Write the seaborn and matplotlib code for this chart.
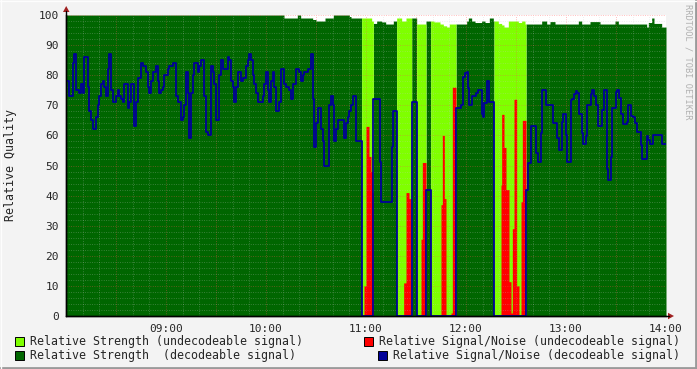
import numpy as np
import matplotlib
matplotlib.use("Agg")
import matplotlib.pyplot as plt
import seaborn as sns
from matplotlib.patches import Rectangle, Polygon
from matplotlib.lines import Line2D
from matplotlib.ticker import MultipleLocator

# ---------------- data (time = minutes after 08:00) ----------------
strength_t = [0, 130.8, 138.8, 140.8, 148, 150, 155.4, 160.4, 170, 171,
              183.4, 184.4, 186.4, 189.4, 191.8, 196.4, 198.4, 201.4, 204,
              210.4, 216, 220.8, 224.4, 226.4, 228.4, 230, 240.4, 241.4,
              243.4, 245.4, 249.4, 251.4, 254, 256.4, 259.4, 261.4, 262.8,
              265.4, 271.4, 273.4, 275.4, 285.4, 288.4, 290.4, 293.4, 307.4,
              309.4, 314.4, 320.4, 329.4, 331.4, 348.4, 349.4, 351.4, 352.8,
              357.4]
strength_v = [100, 99, 100, 99, 98.5, 98, 99, 100, 99.5, 99,
              98, 97.2, 98, 97.7, 97, 98, 99, 98, 99,
              97, 98, 97.7, 97, 96.4, 96, 97, 98, 99,
              98, 97.5, 98, 97.5, 99, 98, 97.2, 96.7,
              96, 98, 97.5, 98, 97, 98, 97, 97.8, 97, 98,
              97, 97.8, 97, 98, 97, 96, 97.5, 99, 97.2,
              96]

snr_t = [0, 2, 4, 5, 6, 8, 9, 10, 11, 13, 14, 15, 16, 18, 19, 20, 21, 22,
         23, 24, 25, 26, 27, 28, 30, 31, 32, 33, 34, 35, 37, 38, 39, 41, 42,
         43, 45, 46, 48, 49, 50, 51, 52, 54, 55, 56, 57, 58, 59, 61, 62, 64,
         66, 67, 69, 70, 71, 72, 73, 74, 75, 76, 77, 79, 80, 81, 83, 84, 85,
         87, 88, 89, 90, 92, 93, 94, 97, 98, 99, 100, 101, 102, 103, 105,
         106, 108, 109, 110, 111, 112, 113, 114, 115, 118, 119, 120, 121,
         122, 123, 124, 125, 126, 128, 129, 131, 132, 134, 135, 136, 138,
         140, 141, 142, 143, 145, 147, 148, 149, 150, 151, 153, 154, 155,
         158, 159, 160, 161, 162, 163, 167, 168, 169, 170, 171, 172, 174,
         177.4, 178.8, 180, 181.8, 183, 183.8,
         184.4, 188.4, 189, 195.4, 196.4,
         198.4, 202.6, 204, 205.8, 207,
         207.4,
         210.4, 213, 213.8,
         216,
         218.8, 225, 225.8, 227, 228, 231, 231.8,
         234, 237, 238.4, 239.4, 240.4, 241, 242, 243.6, 246, 247, 249.4,
         250, 251, 252.4, 254,
         256.8, 261, 261.4, 262.8, 264, 265.8, 267, 267.8, 268.8, 270.4,
         271.8, 273, 273.8,
         276, 277.4, 278.8, 282, 283.4, 284.8, 285.4, 287.8, 292.4, 294.4,
         295.8, 297.4, 298.4, 299.8, 300.4, 302.8, 303.8, 304.8, 305.8,
         306.8, 307.8, 309.4, 310.4, 311.8, 312.8, 314.8, 315.8, 316.8,
         317.8, 319.4, 321.4, 322.8, 324.4, 325.4, 326.8, 327.4, 329.8,
         330.8, 331.8, 332.8, 334.4, 336.4, 337.4, 338.8, 340, 341.4, 342.4,
         344.8, 345.4, 348.4, 349.4, 350.4, 352.4, 357.4]
snr_v = [78, 73, 84, 87, 75, 74, 77, 74, 86, 76, 68, 65, 62, 66, 70, 73, 77, 78,
         76, 73, 82, 87, 75, 71, 73, 75, 73, 72, 71, 77, 69, 71, 77, 63, 71,
         79, 84, 83, 81, 76, 74, 78, 81, 83, 78, 74, 75, 76, 80, 82, 83, 84,
         73, 71, 65, 66, 70, 81, 74, 59, 74, 80, 84, 81, 83, 85, 73, 61, 60,
         83, 81, 77, 65, 80, 85, 82, 86, 85, 78, 76, 71, 76, 81, 78,
         79, 83, 85, 87, 85, 80, 77, 74, 71, 73, 77, 81, 75,
         71, 78, 81, 76, 68, 71, 82, 77, 76, 75, 72, 77, 82,
         81, 78, 80, 81, 82, 87, 72, 56, 64, 69, 62, 58, 50,
         70, 73, 70, 58, 62, 65, 59, 64, 66, 68, 70, 73, 58,
         0, 10, 63, 53, 48, 41,
         72, 51, 38, 56, 68,
         0, 11, 41, 39, 0,
         71,
         0, 25.5, 51,
         42,
         0, 37, 60, 39, 0, 1, 76,
         69, 70, 79.5, 80.6, 81, 75.6, 70, 73, 74, 75, 67,
         66, 70.7, 78, 71,
         0, 43.5, 67, 56, 42, 11.4, 1, 29, 72, 10,
         0, 38, 65,
         42, 50.7, 63, 54.3, 51.3, 60.7, 75, 70, 64, 59.3,
         55, 64.5, 67, 60, 51, 71.8, 72, 73.8, 74.8,
         74.2, 67, 60.7, 57, 59.8, 70, 73.7, 75, 73,
         70, 63, 68.4, 75, 49, 45.2, 52.7, 69, 74.5,
         75, 72.3, 67, 63.7, 64.5, 70, 66.5, 66, 64, 61,
         56.8, 52.2, 59.8, 58.5, 57.1, 60, 57]

undec_start = [177.4, 198.4, 210.4, 218.8, 256.8]
undec_end = [184.4, 207.4, 216.0, 234.0, 276.0]

tick_minutes = [60, 120, 180, 240, 300, 360]
tick_labels = ["09:00", "10:00", "11:00", "12:00", "13:00", "14:00"]

legend_labels = ["Relative Strength (undecodeable signal)",
                 "Relative Signal/Noise (undecodeable signal)",
                 "Relative Strength  (decodeable signal)",
                 "Relative Signal/Noise (decodeable signal)"]

DARK_GREEN = "#006600"
LIGHT_GREEN = "#7fff00"
RED = "#ff0000"
BLUE = "#000099"
BG = "#f3f3f3"

# ---------------- build step series ----------------
T_END = 360.0
grid = np.unique(np.concatenate([strength_t, snr_t, undec_start, undec_end, [T_END]]))


def step_at(t_bp, v_bp, t):
    idx = np.searchsorted(np.asarray(t_bp), t, side="right") - 1
    return np.asarray(v_bp, dtype=float)[idx]


strength = step_at(strength_t, strength_v, grid)
snr = step_at(snr_t, snr_v, grid)
undec = np.zeros(len(grid), dtype=bool)
for s, e in zip(undec_start, undec_end):
    undec |= (grid >= s) & (grid < e)

# ---------------- figure ----------------
sns.set_style("white")
plt.rcParams["font.family"] = ["DejaVu Sans Mono", "DejaVu Sans"]

W, H = 697, 369
fig = plt.figure(figsize=(W / 100, H / 100), dpi=100, facecolor=BG)
ax = fig.add_axes([66 / W, 1 - 316 / H, 600 / W, 301 / H])
ax.set_facecolor("white")

ax.fill_between(grid, 0, np.where(undec, 0, strength), step="post",
                color=DARK_GREEN, lw=0, zorder=1)
ax.fill_between(grid, 0, np.where(undec, strength, 0), step="post",
                color=LIGHT_GREEN, lw=0, zorder=1)
ax.fill_between(grid, 0, np.where(undec, snr, 0), step="post",
                color=RED, lw=0, zorder=1.5)
sns.lineplot(x=grid, y=np.where(undec, 0, snr), drawstyle="steps-post",
             color=BLUE, lw=1.3, ax=ax, zorder=3, estimator=None)

ax.set_xlim(0, T_END)
ax.set_ylim(0, 100)

# grid
ax.set_axisbelow(False)
ax.xaxis.set_major_locator(MultipleLocator(30))
ax.xaxis.set_minor_locator(MultipleLocator(10))
ax.yaxis.set_major_locator(MultipleLocator(10))
ax.yaxis.set_minor_locator(MultipleLocator(2))
ax.grid(which="minor", color="#c8c8c8", alpha=0.35, lw=0.7,
        linestyle=(0, (0.8, 1.6)))
ax.grid(which="major", color="#ff5050", alpha=0.45, lw=0.7,
        linestyle=(0, (0.8, 1.6)))

xt = np.arange(0, 361, 30)
ax.set_xticks(xt)
ax.set_xticklabels([tick_labels[tick_minutes.index(v)] if v in tick_minutes else "" for v in xt])
ax.set_yticks(np.arange(0, 101, 10))
ax.set_yticklabels([str(v) for v in range(0, 101, 10)])
ax.tick_params(which="major", length=3, width=0.8, color="#c06060",
               labelsize=8, pad=2, direction="out")
ax.tick_params(which="minor", length=2, width=0.8, color="#a0a0a0",
               direction="out")
ax.tick_params(axis="x", which="major", pad=3)

for sp in ["top", "right"]:
    ax.spines[sp].set_visible(False)
for sp in ["left", "bottom"]:
    ax.spines[sp].set_color("black")
    ax.spines[sp].set_linewidth(1.0)
    ax.spines[sp].set_zorder(5)


def fx(px):
    return px / W


def fy(py):
    return 1 - py / H


# axis extensions and arrows
fig.add_artist(Line2D([fx(66), fx(66)], [fy(316), fy(11)], color="black", lw=1.0, zorder=6))
fig.add_artist(Line2D([fx(66), fx(669)], [fy(316), fy(316)], color="black", lw=1.0, zorder=6))
fig.add_artist(Polygon([[fx(63), fy(12)], [fx(69.5), fy(12)], [fx(66.2), fy(6)]],
                       closed=True, color="#a02020", lw=0))
fig.add_artist(Polygon([[fx(668), fy(312.8)], [fx(668), fy(319.3)], [fx(674), fy(316)]],
                       closed=True, color="#a02020", lw=0))

# y label and watermark
fig.text(fx(11), fy(165), "Relative Quality", rotation=90, ha="center",
         va="center", fontsize=8.4)
fig.text(fx(688), fy(4), "RRDTOOL / TOBI OETIKER", rotation=270, ha="center",
         va="top", fontsize=6.2, color="#b0b0b0")

# legend
colors = [LIGHT_GREEN, RED, DARK_GREEN, BLUE]
rows = [341, 355]
box = 9
items = [(30, rows[0], "left"), (680, rows[0], "right"),
         (30, rows[1], "left"), (680, rows[1], "right")]
fig.canvas.draw()
renderer = fig.canvas.get_renderer()
for (px, py, ha), lab, col in zip(items, legend_labels, colors):
    t = fig.text(fx(px), fy(py), lab, ha=ha, va="center", fontsize=8.4)
    bb = t.get_window_extent(renderer=renderer)
    left_px = bb.x0
    sq_x = left_px - 6 - box
    fig.add_artist(Rectangle((sq_x / W, fy(py) - box / 2 / H), box / W, box / H,
                             facecolor=col, edgecolor="black", lw=0.7))

# frame border
fig.add_artist(Line2D([0, 1], [fy(368), fy(368)], color="#9a9a9a", lw=2))
fig.add_artist(Line2D([fx(696), fx(696)], [0, 1], color="#9a9a9a", lw=2))
fig.add_artist(Line2D([0, 1], [fy(0.5), fy(0.5)], color="#fdfdfd", lw=1))
fig.add_artist(Line2D([fx(0.5), fx(0.5)], [0, 1], color="#fdfdfd", lw=1))

fig.savefig("out.png", dpi=100, facecolor=BG)
